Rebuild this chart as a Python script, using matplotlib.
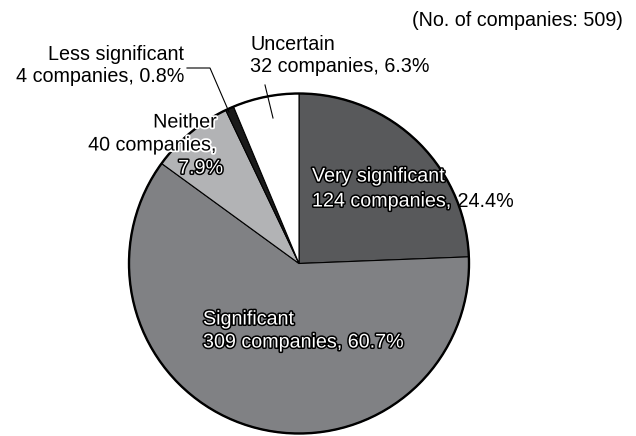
import matplotlib.pyplot as plt
import matplotlib.patheffects as pe
from matplotlib.patches import Circle

# survey answers, clockwise from 12 o'clock
answers = ["Very significant", "Significant", "Neither", "Less significant", "Uncertain"]
companies = [124, 309, 40, 4, 32]
shares = [24.4, 60.7, 7.9, 0.8, 6.3]
slice_colors = ["#58595b", "#808184", "#b2b3b5", "#1a1a1a", "#ffffff"]

plt.rcParams['font.family'] = ['Liberation Sans', 'DejaVu Sans']
fs = 14.2

fig = plt.figure(figsize=(6.36, 4.36), dpi=100)
ax = fig.add_axes([0, 0, 1, 1])
ax.set_xlim(0, 636)
ax.set_ylim(436, 0)
ax.set_aspect('equal')
ax.axis('off')

cx, cy, r = 299, 263.5, 170
# y axis is flipped, so counterclock=True runs clockwise on screen
ax.pie(shares, colors=slice_colors, center=(cx, cy), radius=r, startangle=-90,
       counterclock=True, wedgeprops=dict(edgecolor='black', linewidth=0.8))
ax.add_patch(Circle((cx, cy), r, fill=False, edgecolor='black', linewidth=1.7, zorder=3))
ax.set_xlim(0, 636)
ax.set_ylim(436, 0)

# outlined white text inside slices, white halo for black text touching the pie
halo = [pe.Stroke(linewidth=2.2, foreground='black'), pe.Normal()]
glow = [pe.Stroke(linewidth=2.5, foreground='white'), pe.Normal()]

def lbl(i):
    return f"{companies[i]} companies, {shares[i]}%"

ax.text(623, 20, f"(No. of companies: {sum(companies)})", ha='right', va='center', fontsize=fs)

# very significant
ax.text(312, 176, answers[0], ha='left', va='center', fontsize=fs, color='white', path_effects=halo)
t2 = ax.text(312, 201, f"{companies[0]} companies,", ha='left', va='center', fontsize=fs,
             color='white', path_effects=halo)
ax.annotate(f" {shares[0]}%", xy=(1, 0), xycoords=t2, ha='left', va='bottom', fontsize=fs)

# significant
ax.text(203, 319, answers[1], ha='left', va='center', fontsize=fs, color='white', path_effects=halo)
ax.text(203, 342, lbl(1), ha='left', va='center', fontsize=fs, color='white', path_effects=halo)

# neither
ax.text(217, 122, answers[2], ha='right', va='center', fontsize=fs, path_effects=glow)
ax.text(217, 145, f"{companies[2]} companies,", ha='right', va='center', fontsize=fs, path_effects=glow)
ax.text(223, 168, f"{shares[2]}%", ha='right', va='center', fontsize=fs, color='white', path_effects=halo)

# less significant
ax.text(184, 55, answers[3], ha='right', va='center', fontsize=fs)
ax.text(184, 77, lbl(3), ha='right', va='center', fontsize=fs)
ax.plot([187, 210, 229], [68, 68, 112], color='black', linewidth=0.8)

# uncertain
ax.text(250, 45, answers[4], ha='left', va='center', fontsize=fs)
ax.text(250, 67, lbl(4), ha='left', va='center', fontsize=fs)
ax.plot([265, 273], [85, 118], color='black', linewidth=0.8)

fig.savefig("out.png", dpi=100, facecolor='white')
